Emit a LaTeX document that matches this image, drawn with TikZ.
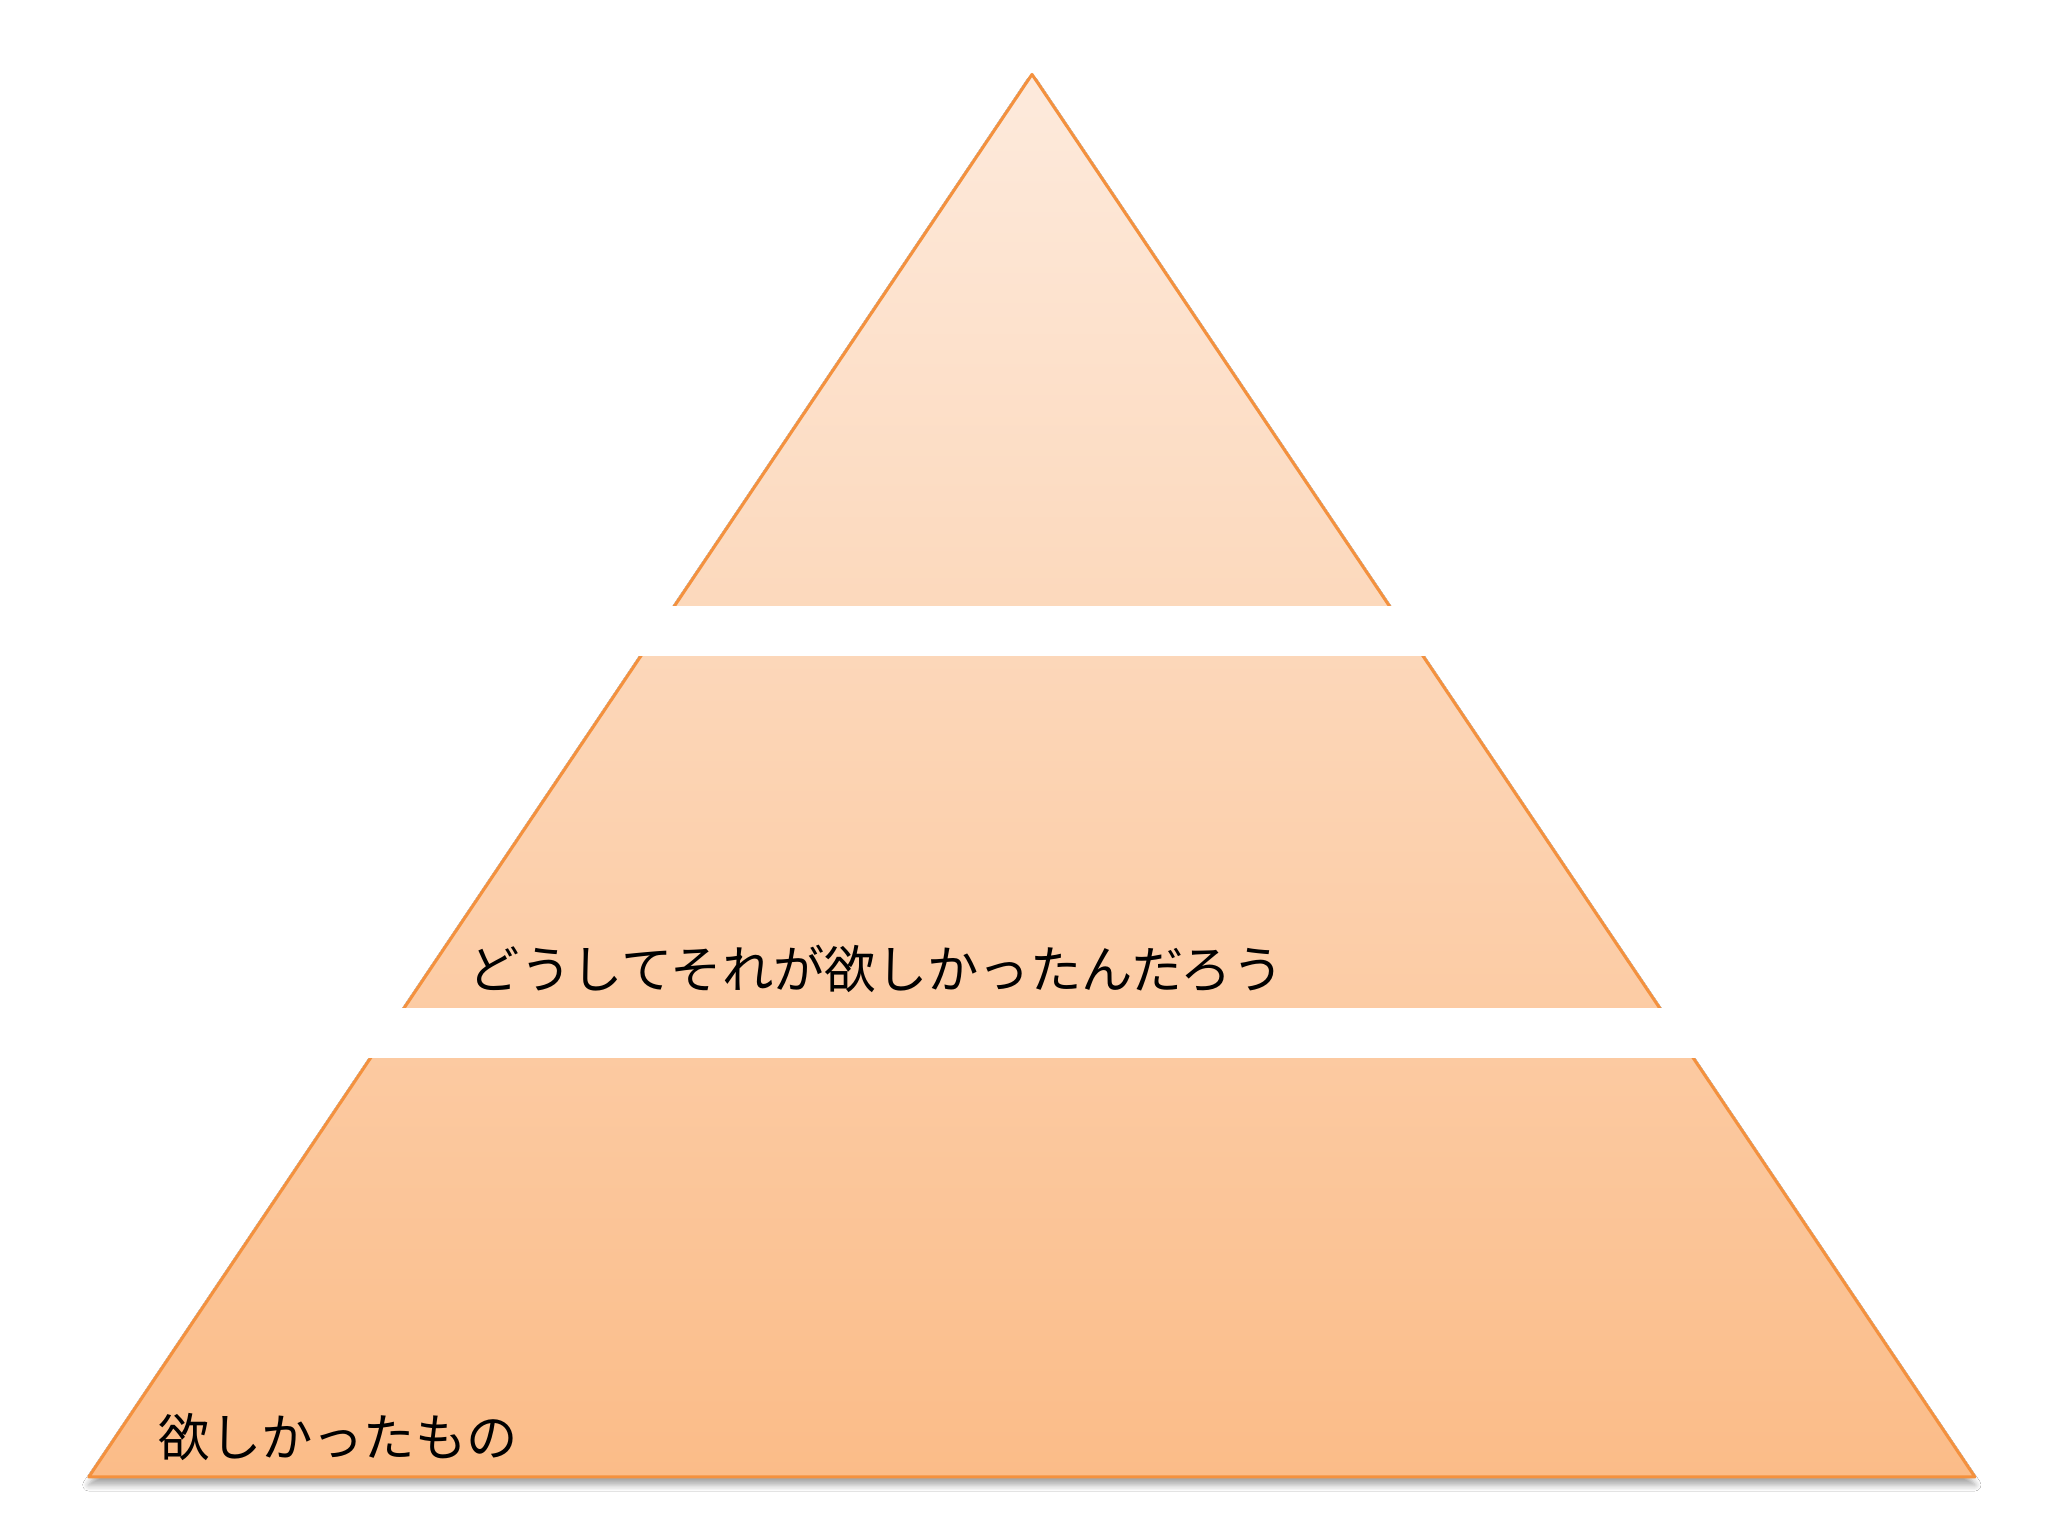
\documentclass[tikz,border=0pt]{standalone}
\usepackage{fontspec}
\newfontfamily\jpfont{Noto Sans CJK JP}
\usetikzlibrary{shadows.blur}

\definecolor{pyrline}{HTML}{F4913E}
\definecolor{pyrtop}{HTML}{FDEADC}
\definecolor{pyrbot}{HTML}{FBBC88}

\begin{document}
\begin{tikzpicture}[
  pyramid/.style={draw=pyrline, line width=0.85pt, line join=round,
    top color=pyrtop, bottom color=pyrbot,
    blur shadow={shadow xshift=0cm, shadow yshift=-0.08cm, shadow opacity=35, shadow blur steps=6}},
  gap/.style={fill=white, draw=none},
  label/.style={anchor=west, inner sep=0pt, font=\jpfont\fontsize{14.6}{17}\selectfont}
]
\useasboundingbox[fill=white] (0,0) rectangle (20.48,15.36);
% whole pyramid, then the two white bands cut it into levels
\coordinate (apex) at (10.32,14.616);
\coordinate (baseL) at (0.888,0.59);
\coordinate (baseR) at (19.749,0.59);
\path[pyramid] (apex) -- (baseR) -- (baseL) -- cycle;
\fill[gap] (5,8.803) rectangle (16,9.30);
\fill[gap] (2,4.78) rectangle (18.5,5.277);
\node[label] (why) at (4.68,5.67) {どうしてそれが欲しかったんだろう};
\node[label] (want) at (1.58,0.99) {欲しかったもの};
\end{tikzpicture}
\end{document}
